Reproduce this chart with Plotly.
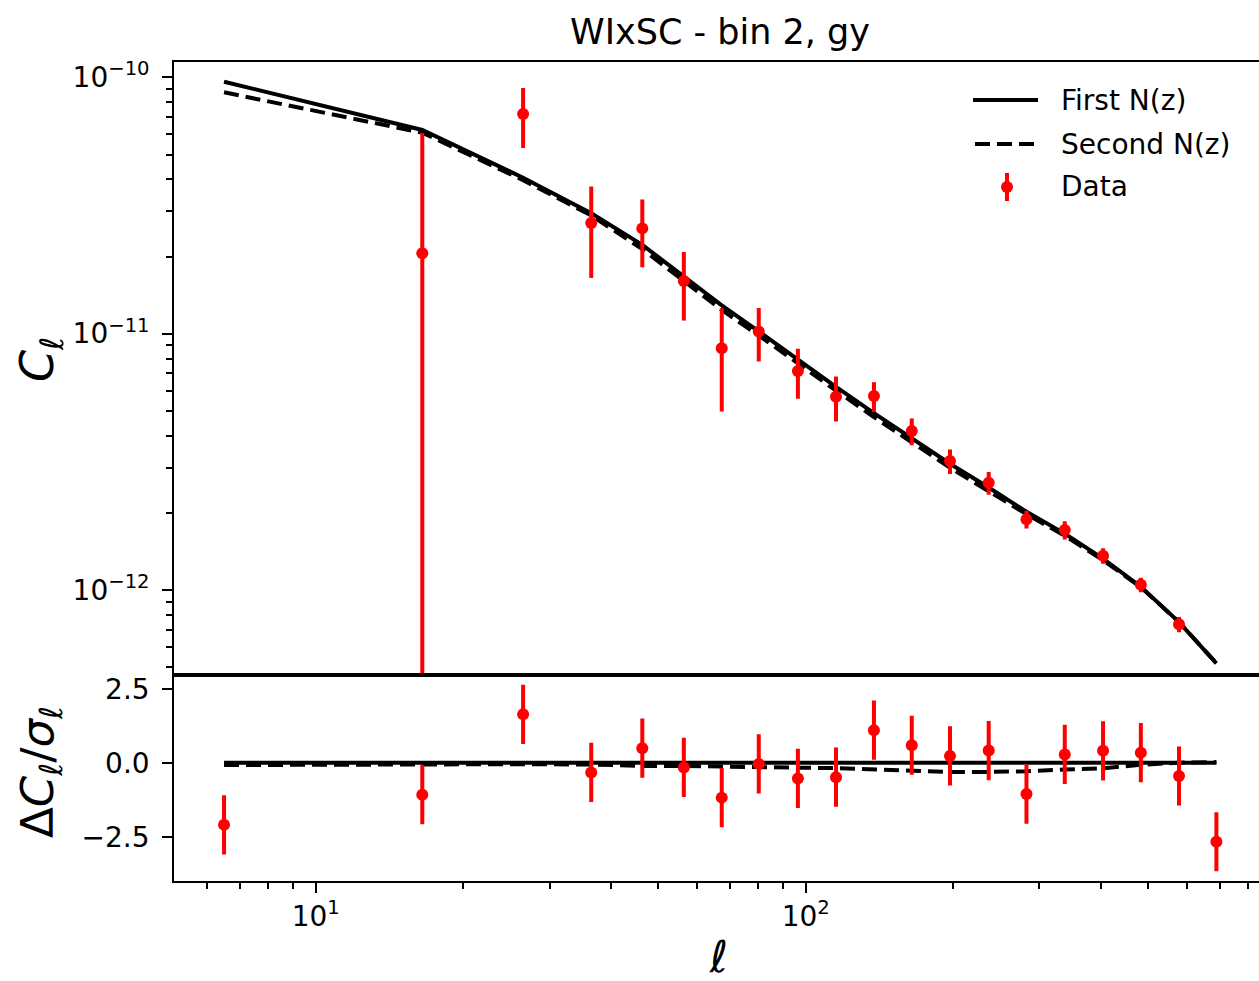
import plotly.graph_objects as go

# Multipole bin centres
ell = [6.5, 16.5, 26.5, 36.5, 46.4, 56.4, 67.4, 80.2, 96.4, 115.3,
       137.8, 164.6, 197.0, 236.3, 282.2, 337.8, 404.4, 483.0, 577.9, 688.9]

# Measured cross-spectrum and its 1-sigma errors
cl_data = [-1.0e-11, 2.06e-11, 7.19e-11, 2.70e-11, 2.575e-11, 1.605e-11, 8.77e-12, 1.019e-11,
           7.155e-12, 5.675e-12, 5.71e-12, 4.17e-12, 3.185e-12, 2.62e-12, 1.886e-12, 1.714e-12,
           1.361e-12, 1.049e-12, 7.35e-13, 4.0e-13]
cl_err = [5.4e-11, 4.0e-11, 1.89e-11, 1.05e-11, 7.6e-12, 4.8e-12, 3.8e-12, 2.4e-12,
          1.58e-12, 1.13e-12, 7.6e-13, 5.0e-13, 3.5e-13, 2.66e-13, 1.5e-13, 1.4e-13,
          9.5e-14, 6.8e-14, 5.0e-14, 4.0e-14]

# Model spectra for the two redshift distributions
cl_first = [9.61e-11, 6.23e-11, 4.06e-11, 2.95e-11, 2.22e-11, 1.667e-11, 1.29e-11, 1.02e-11,
            7.9e-12, 6.2e-12, 4.9e-12, 3.9e-12, 3.11e-12, 2.51e-12, 2.02e-12, 1.66e-12,
            1.325e-12, 1.03e-12, 7.5e-13, 5.17e-13]
cl_second = [8.74e-11, 6.08e-11, 3.97e-11, 2.89e-11, 2.136e-11, 1.614e-11, 1.237e-11, 9.84e-12,
             7.63e-12, 6.0e-12, 4.725e-12, 3.76e-12, 3.0e-12, 2.428e-12, 1.976e-12, 1.628e-12,
             1.307e-12, 1.025e-12, 7.5e-13, 5.18e-13]

# Residuals relative to the first model, in units of sigma
res_data = [-2.10, -1.08, 1.635, -0.33, 0.49, -0.16, -1.18, -0.04, -0.53, -0.49,
            1.10, 0.59, 0.23, 0.41, -1.06, 0.28, 0.40, 0.34, -0.45, -2.67]
res_err = [1.0, 1.0, 1.0, 1.0, 1.0, 1.0, 1.0, 1.0, 1.0, 1.0,
           1.0, 1.0, 1.0, 1.0, 1.0, 1.0, 1.0, 1.0, 1.0, 1.0]
res_first = [0.0, 0.0, 0.0, 0.0, 0.0, 0.0, 0.0, 0.0, 0.0, 0.0,
             0.0, 0.0, 0.0, 0.0, 0.0, 0.0, 0.0, 0.0, 0.0, 0.0]
res_second = [-0.08, -0.05, -0.05, -0.06, -0.11, -0.11, -0.14, -0.15, -0.17, -0.18,
              -0.23, -0.28, -0.31, -0.31, -0.29, -0.23, -0.19, -0.07, 0.0, 0.02]

# Axis ticks
cl_ticks = [1e-12, 1e-11, 1e-10]
cl_ticktext = ["10<sup>\u221212</sup>", "10<sup>\u221211</sup>", "10<sup>\u221210</sup>"]
cl_minor = [m * d for d in (1e-13, 1e-12, 1e-11) for m in range(2, 10)]
ell_ticks = [10, 100]
ell_ticktext = ["10<sup>1</sup>", "10<sup>2</sup>"]
ell_minor = [m * d for d in (1, 10, 100) for m in range(2, 10)]
res_ticks = [-2.5, 0.0, 2.5]
res_ticktext = ["\u22122.5", "0.0", "2.5"]

# Legend entries
legend_labels = ["First N(z)", "Second N(z)", "Data"]

FONT = "DejaVu Sans"
W, H = 1259, 981
LW = 2.2
MODEL_W = 4
DASH = "15px,7px"

fig = go.Figure()

# Top panel
fig.add_trace(go.Scatter(x=ell, y=cl_first, mode="lines", name=legend_labels[0], showlegend=False,
                         line=dict(color="black", width=MODEL_W), xaxis="x", yaxis="y"))
fig.add_trace(go.Scatter(x=ell, y=cl_second, mode="lines", name=legend_labels[1], showlegend=False,
                         line=dict(color="black", width=MODEL_W, dash=DASH), xaxis="x", yaxis="y"))
fig.add_trace(go.Scatter(x=ell, y=cl_data, mode="markers", name=legend_labels[2], showlegend=False,
                         marker=dict(color="red", size=12),
                         error_y=dict(type="data", array=cl_err, color="red", thickness=4, width=0),
                         xaxis="x", yaxis="y"))

# Bottom panel
fig.add_trace(go.Scatter(x=ell, y=res_first, mode="lines", showlegend=False,
                         line=dict(color="black", width=MODEL_W), xaxis="x2", yaxis="y2"))
fig.add_trace(go.Scatter(x=ell, y=res_second, mode="lines", showlegend=False,
                         line=dict(color="black", width=MODEL_W, dash=DASH), xaxis="x2", yaxis="y2"))
fig.add_trace(go.Scatter(x=ell, y=res_data, mode="markers", showlegend=False,
                         marker=dict(color="red", size=12),
                         error_y=dict(type="data", array=res_err, color="red", thickness=4, width=0),
                         xaxis="x2", yaxis="y2"))

x_dom = [174.3 / W, 1.0]
top_dom = [(H - 674.5) / H, (H - 61.7) / H]
bot_dom = [(H - 880.5) / H, (H - 674.5) / H]
x_range = [0.7114, 2.9251]

axis_common = dict(showgrid=False, zeroline=False, showline=True, linecolor="black",
                   linewidth=LW, tickcolor="black", tickwidth=LW, ticklen=10,
                   tickfont=dict(family=FONT, size=28, color="black"))

# Legend drawn in figure pixels (converted to paper fractions)
def px(x):
    return x / W


def py(y):
    return 1 - y / H


leg_x0, leg_x1, leg_text_x = 973, 1038, 1059
leg_rows = [100, 144, 187]
shapes = [
    dict(type="line", xref="paper", yref="paper", x0=px(leg_x0), x1=px(leg_x1),
         y0=py(leg_rows[0]), y1=py(leg_rows[0]), line=dict(color="black", width=MODEL_W)),
    dict(type="line", xref="paper", yref="paper", x0=px(leg_x0 + 2), x1=px(leg_x1),
         y0=py(leg_rows[1]), y1=py(leg_rows[1]),
         line=dict(color="black", width=MODEL_W, dash=DASH)),
    dict(type="line", xref="paper", yref="paper", x0=px(1007), x1=px(1007),
         y0=py(leg_rows[2] - 14), y1=py(leg_rows[2] + 14), line=dict(color="red", width=4)),
    dict(type="circle", xref="paper", yref="paper", x0=px(1001), x1=px(1013),
         y0=py(leg_rows[2] - 6), y1=py(leg_rows[2] + 6), fillcolor="red",
         line=dict(color="red", width=0)),
]

annotations = [
    dict(text=lab, xref="paper", yref="paper", x=px(leg_text_x), y=py(row),
         xanchor="left", yanchor="middle", showarrow=False,
         font=dict(family=FONT, size=28, color="black"))
    for lab, row in zip(legend_labels, leg_rows)
]
annotations += [
    dict(text="<i>C</i><sub><i>\u2113</i></sub>", xref="paper", yref="paper",
         x=px(40), y=py(360), xanchor="center", yanchor="middle",
         textangle=-90, showarrow=False, font=dict(family=FONT, size=46, color="black")),
    dict(text="\u0394<i>C</i><sub><i>\u2113</i></sub>/<i>\u03c3</i><sub><i>\u2113</i></sub>",
         xref="paper", yref="paper", x=px(40), y=py(772),
         xanchor="center", yanchor="middle", textangle=-90, showarrow=False,
         font=dict(family=FONT, size=45, color="black")),
    dict(text="<i>\u2113</i>", xref="paper", yref="paper", x=px(718), y=py(956),
         xanchor="center", yanchor="middle", showarrow=False, borderpad=0,
         font=dict(family=FONT, size=44, color="black")),
]

fig.update_layout(
    width=W, height=H,
    margin=dict(l=0, r=0, t=0, b=0, autoexpand=False),
    paper_bgcolor="white", plot_bgcolor="white",
    font=dict(family=FONT, color="black"),
    showlegend=False,
    title=dict(text="WIxSC - bin 2, gy", x=720 / W, xanchor="center",
               y=1 - 32 / H, yanchor="middle",
               font=dict(family=FONT, size=35, color="black")),
    xaxis=dict(type="log", range=x_range, domain=x_dom, anchor="y", matches="x2",
               showticklabels=False, ticks="", mirror=True,
               **{k: v for k, v in axis_common.items() if k not in ("ticklen",)}),
    yaxis=dict(type="log", range=[-12.3296, -9.939], domain=top_dom, anchor="x",
               tickmode="array", tickvals=cl_ticks, ticktext=cl_ticktext, ticks="outside",
               ticklabelstandoff=7,
               minor=dict(tickmode="array", tickvals=cl_minor, ticks="outside",
                          ticklen=6, tickwidth=1.7, tickcolor="black", showgrid=False),
               **axis_common),
    xaxis2=dict(type="log", range=x_range, domain=x_dom, anchor="y2",
                tickmode="array", tickvals=ell_ticks, ticktext=ell_ticktext, ticks="outside",
                mirror=True,
                minor=dict(tickmode="array", tickvals=ell_minor, ticks="outside",
                           ticklen=6, tickwidth=1.7, tickcolor="black", showgrid=False),
                **axis_common),
    yaxis2=dict(range=[-3.98, 2.98], domain=bot_dom, anchor="x2",
                tickmode="array", tickvals=res_ticks, ticktext=res_ticktext, ticks="outside",
                ticklabelstandoff=7,
                **axis_common),
    shapes=shapes,
    annotations=annotations,
)

fig.write_html("out.html")
